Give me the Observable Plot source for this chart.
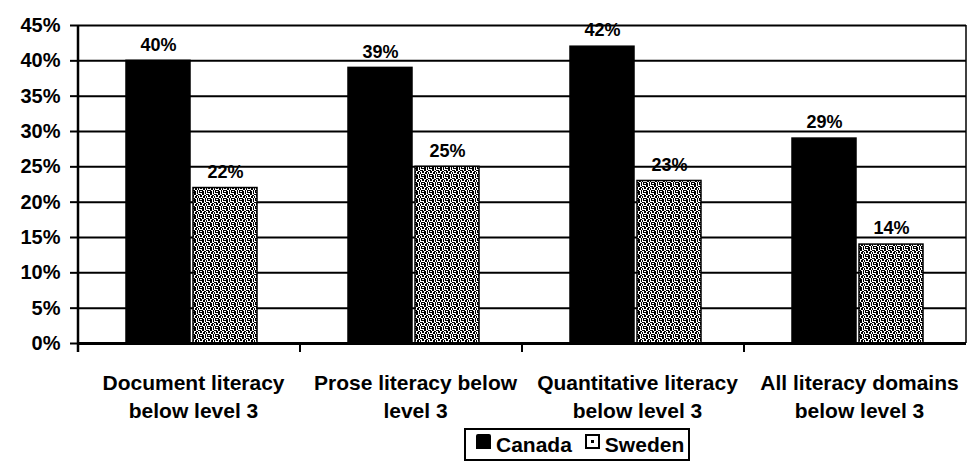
<!DOCTYPE html>
<html><head><meta charset="utf-8">
<script src="https://cdn.jsdelivr.net/npm/d3@7"></script>
<script src="https://cdn.jsdelivr.net/npm/@observablehq/plot@0.6"></script>
<style>
body{margin:0;background:#fff;font-family:"Liberation Sans",Arial,Helvetica,sans-serif;}
#wrap{position:relative;width:971px;height:473px;overflow:hidden;}
#legend{position:absolute;left:464px;top:428px;height:29px;border:2px solid #000;display:flex;align-items:center;padding:0 4px 0 10px;font-weight:bold;font-size:21px;color:#000;background:#fff;}
#legend .sw{display:inline-block;width:15px;height:15px;margin-right:5px;box-sizing:border-box;position:relative;top:-3px;}
#legend .item{display:flex;align-items:center;margin-right:13px;}
#legend .item:last-child{margin-right:0;}
</style></head><body>
<div id="wrap"><div id="chart"></div><div id="legend"></div></div>
<script>
const categories = [
  "Document literacy\nbelow level 3",
  "Prose literacy below\nlevel 3",
  "Quantitative literacy\nbelow level 3",
  "All literacy domains\nbelow level 3"
];
const series = ["Canada", "Sweden"];
const canada = [40, 39, 42, 29];
const sweden = [22, 25, 23, 14];
const yTicks = [0, 5, 10, 15, 20, 25, 30, 35, 40, 45];

const data = categories.flatMap((c, i) => [
  {cat: c, country: "Canada", value: canada[i]},
  {cat: c, country: "Sweden", value: sweden[i]}
]);

const plot = Plot.plot({
  width: 971,
  height: 425,
  marginLeft: 77,
  marginRight: 5,
  marginTop: 25,
  marginBottom: 82,
  style: {fontFamily: "'Liberation Sans', Arial, sans-serif", color: "#000", background: "#fff"},
  fx: {domain: categories, paddingInner: 0, paddingOuter: 0, axis: null, label: null},
  x: {domain: series, paddingInner: 0.04, paddingOuter: 0.665, align: 0.53, axis: null},
  y: {domain: [0, 45], axis: null, label: null},
  color: {domain: series, range: ["#000", "url(#stipple)"]},
  marks: [
    Plot.gridY(yTicks, {stroke: "#000", strokeOpacity: 1, strokeWidth: 2}),
    Plot.barY(data, {fx: "cat", x: "country", y: "value", fill: "country", stroke: "#000", strokeWidth: 1.5}),
    Plot.ruleY([0], {stroke: "#000", strokeWidth: 3}),
    Plot.text(data, {fx: "cat", x: "country", y: "value", text: d => d.value + "%", dy: -16, fontSize: 18, fontWeight: "bold", fill: "#000"}),
    Plot.text(categories, {fx: d => d, text: d => d, frameAnchor: "bottom", dy: 27, dx: 4, lineAnchor: "top", lineHeight: 1.33, fontSize: 21, fontWeight: "bold", fill: "#000"}),
    Plot.axisY({ticks: yTicks, tickFormat: d => d + "%", tickSize: 8, tickPadding: 10, fontSize: 20, fontWeight: "bold", strokeWidth: 2, label: null})
  ]
});

document.getElementById("chart").appendChild(plot);

// stipple pattern for Sweden bars
const svg = d3.select(plot);
const defs = svg.insert("defs", ":first-child");
const pat = defs.append("pattern").attr("id", "stipple").attr("width", 8).attr("height", 8).attr("patternUnits", "userSpaceOnUse");
pat.append("rect").attr("width", 8).attr("height", 8).attr("fill", "#fff");
pat.append("path").attr("fill", "#000").attr("d",
  "M0 0h3v1h-3z M4 0h1v2h-1z M6 0h2v1h-2z M1 1h2v2h-2z M5 2h3v1h-3z M0 3h1v2h-1z M3 3h2v1h-2z M7 3h1v2h-1z " +
  "M2 4h2v2h-2z M5 4h1v2h-1z M0 6h2v1h-2z M4 6h1v2h-1z M6 6h2v1h-2z M1 7h2v1h-2z M6 7h1v1h-1z");

// frame lines and category boundary ticks, positioned from the scales
const fx = plot.scale("fx");
const y = plot.scale("y");
const y0 = y.apply(0), yTop = y.apply(45);
const left = fx.apply(categories[0]);
const right = fx.apply(categories[categories.length - 1]) + fx.bandwidth;
const g = svg.append("g").attr("stroke", "#000").attr("fill", "none");
g.append("line").attr("x1", left).attr("x2", left).attr("y1", yTop).attr("y2", y0 + 9).attr("stroke-width", 2.5);
g.append("line").attr("x1", right).attr("x2", right).attr("y1", yTop).attr("y2", y0).attr("stroke-width", 1.5);
categories.slice(0, -1).forEach(c => {
  const xb = fx.apply(c) + fx.bandwidth;
  g.append("line").attr("x1", xb).attr("x2", xb).attr("y1", y0).attr("y2", y0 + 9).attr("stroke-width", 2);
});

// legend
const legend = d3.select("#legend");
series.forEach((s, i) => {
  const item = legend.append("div").attr("class", "item");
  const sw = item.append("span").attr("class", "sw");
  if (i === 0) sw.style("background", "#000").style("border-radius", "2px 2px 0 0");
  else sw.style("border", "2px solid #000").style("background", "#fff").html('<span style="display:block;width:3px;height:3px;margin:4px 0 0 4px;background:#000"></span>');
  item.append("span").text(s);
});
</script>
</body></html>
